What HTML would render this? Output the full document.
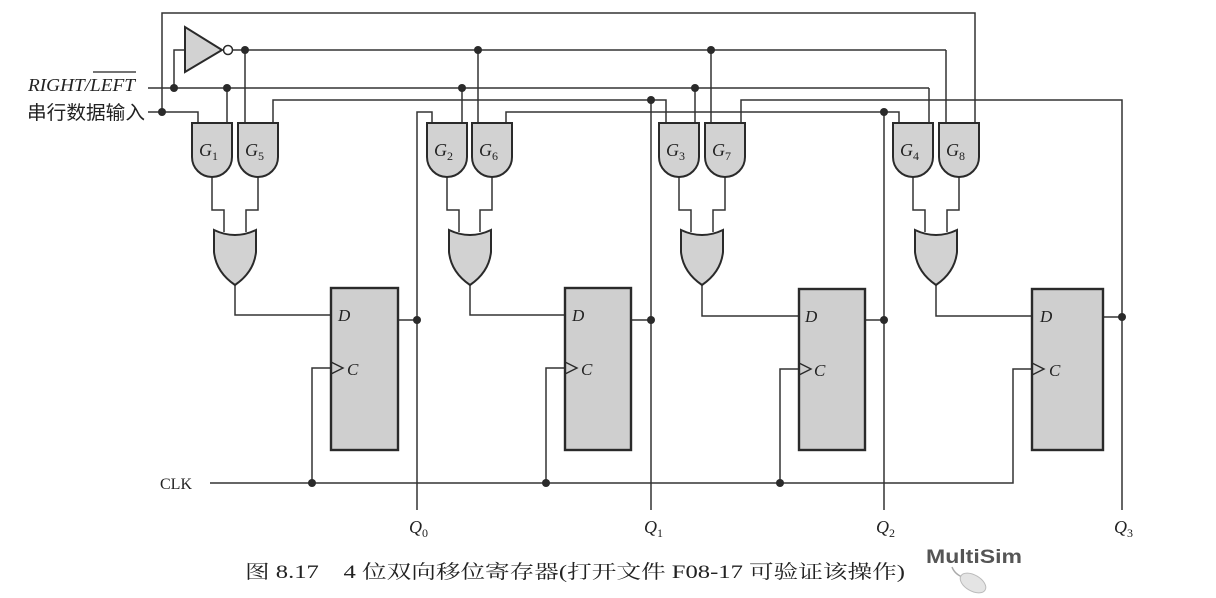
<!DOCTYPE html>
<html><head><meta charset="utf-8"><style>
html,body{margin:0;padding:0;background:#fff;}
svg{display:block;}
.w{stroke:#333;stroke-width:1.5;fill:none;}
.g{fill:#d2d2d2;stroke:#2a2a2a;stroke-width:2;}
.f{fill:#cfcfcf;stroke:#2a2a2a;stroke-width:2.4;}
.t{font-family:"Liberation Serif",serif;font-style:italic;fill:#222;}
</style></head><body>
<svg width="1216" height="598" viewBox="0 0 1216 598" xmlns="http://www.w3.org/2000/svg">
<g class="w">
<polyline points="148,112 198,112 198,123"/>
<polyline points="162,112 162,13 975,13 975,123"/>
<line x1="148" y1="88" x2="929" y2="88"/><line x1="929" y1="88" x2="929" y2="123"/>
<polyline points="174,88 174,50 185,50"/>
<line x1="232" y1="50" x2="946" y2="50"/><line x1="946" y1="50" x2="946" y2="123"/>
<line x1="227" y1="88" x2="227" y2="123"/>
<line x1="245" y1="50" x2="245" y2="123"/>
<polyline points="273,123 273,100 666,100 666,123"/>
<polyline points="741,123 741,100 1122,100 1122,510"/>
<polyline points="417,510 417,112 432,112 432,123"/>
<line x1="462" y1="88" x2="462" y2="123"/>
<line x1="478" y1="50" x2="478" y2="123"/>
<polyline points="506,123 506,112 899,112 899,123"/>
<line x1="651" y1="100" x2="651" y2="510"/>
<line x1="695" y1="88" x2="695" y2="123"/>
<line x1="711" y1="50" x2="711" y2="123"/>
<line x1="884" y1="112" x2="884" y2="510"/>
<polyline points="212,177 212,210 224,210 224,232"/><polyline points="258,177 258,210 246,210 246,232"/>
<polyline points="447,177 447,210 459,210 459,232"/><polyline points="492,177 492,210 480,210 480,232"/>
<polyline points="679,177 679,210 691,210 691,232"/><polyline points="725,177 725,210 713,210 713,232"/>
<polyline points="913,177 913,210 925,210 925,232"/><polyline points="959,177 959,210 947,210 947,232"/>
<polyline points="235,285 235,315 331,315"/>
<polyline points="470,285 470,315 565,315"/>
<polyline points="702,285 702,316 799,316"/>
<polyline points="936,285 936,316 1032,316"/>
<line x1="398" y1="320" x2="417" y2="320"/>
<line x1="631" y1="320" x2="651" y2="320"/>
<line x1="865" y1="320" x2="884" y2="320"/>
<line x1="1103" y1="317" x2="1122" y2="317"/>
<polyline points="210,483 1013,483 1013,369 1032,369"/>
<polyline points="312,483 312,368 331,368"/>
<polyline points="546,483 546,368 565,368"/>
<polyline points="780,483 780,369 799,369"/>
</g>
<polygon points="185,27 185,72 222,50" class="g"/>
<circle cx="228" cy="50" r="4.5" fill="#fff" stroke="#2a2a2a" stroke-width="1.5"/>
<g class="g">
<path d="M192,123H232V157A20,20 0 0 1 192,157Z"/>
<path d="M238,123H278V157A20,20 0 0 1 238,157Z"/>
<path d="M427,123H467V157A20,20 0 0 1 427,157Z"/>
<path d="M472,123H512V157A20,20 0 0 1 472,157Z"/>
<path d="M659,123H699V157A20,20 0 0 1 659,157Z"/>
<path d="M705,123H745V157A20,20 0 0 1 705,157Z"/>
<path d="M893,123H933V157A20,20 0 0 1 893,157Z"/>
<path d="M939,123H979V157A20,20 0 0 1 939,157Z"/>
</g>
<g class="g">
<path d="M214,230Q235,240 256,230V252Q254,272 235,285Q216,272 214,252Z"/>
<path d="M449,230Q470,240 491,230V252Q489,272 470,285Q451,272 449,252Z"/>
<path d="M681,230Q702,240 723,230V252Q721,272 702,285Q683,272 681,252Z"/>
<path d="M915,230Q936,240 957,230V252Q955,272 936,285Q917,272 915,252Z"/>
</g>
<g class="f">
<rect x="331" y="288" width="67" height="162"/>
<rect x="565" y="288" width="66" height="162"/>
<rect x="799" y="289" width="66" height="161"/>
<rect x="1032" y="289" width="71" height="161"/>
</g>
<g fill="none" stroke="#2a2a2a" stroke-width="1.4">
<polyline points="331,362 343,368 331,374"/>
<polyline points="565,362 577,368 565,374"/>
<polyline points="799,363 811,369 799,375"/>
<polyline points="1032,363 1044,369 1032,375"/>
</g>
<g class="t" font-size="17">
<text x="338" y="321">D</text><text x="347" y="375">C</text>
<text x="572" y="321">D</text><text x="581" y="375">C</text>
<text x="805" y="322">D</text><text x="814" y="376">C</text>
<text x="1040" y="322">D</text><text x="1049" y="376">C</text>
</g>
<g fill="#2a2a2a">
<circle cx="162" cy="112" r="4"/><circle cx="174" cy="88" r="4"/><circle cx="227" cy="88" r="4"/>
<circle cx="245" cy="50" r="4"/><circle cx="478" cy="50" r="4"/><circle cx="711" cy="50" r="4"/>
<circle cx="462" cy="88" r="4"/><circle cx="695" cy="88" r="4"/>
<circle cx="651" cy="100" r="4"/><circle cx="884" cy="112" r="4"/>
<circle cx="417" cy="320" r="4"/><circle cx="651" cy="320" r="4"/><circle cx="884" cy="320" r="4"/><circle cx="1122" cy="317" r="4"/>
<circle cx="312" cy="483" r="4"/><circle cx="546" cy="483" r="4"/><circle cx="780" cy="483" r="4"/>
</g>
<g class="t" font-size="18">
<text x="199" y="156">G<tspan font-size="12" dy="4" font-style="normal">1</tspan></text>
<text x="245" y="156">G<tspan font-size="12" dy="4" font-style="normal">5</tspan></text>
<text x="434" y="156">G<tspan font-size="12" dy="4" font-style="normal">2</tspan></text>
<text x="479" y="156">G<tspan font-size="12" dy="4" font-style="normal">6</tspan></text>
<text x="666" y="156">G<tspan font-size="12" dy="4" font-style="normal">3</tspan></text>
<text x="712" y="156">G<tspan font-size="12" dy="4" font-style="normal">7</tspan></text>
<text x="900" y="156">G<tspan font-size="12" dy="4" font-style="normal">4</tspan></text>
<text x="946" y="156">G<tspan font-size="12" dy="4" font-style="normal">8</tspan></text>
<text x="409" y="533">Q<tspan font-size="12" dy="4" font-style="normal">0</tspan></text>
<text x="644" y="533">Q<tspan font-size="12" dy="4" font-style="normal">1</tspan></text>
<text x="876" y="533">Q<tspan font-size="12" dy="4" font-style="normal">2</tspan></text>
<text x="1114" y="533">Q<tspan font-size="12" dy="4" font-style="normal">3</tspan></text>
</g>
<text x="28" y="91" class="t" font-size="18" textLength="107" lengthAdjust="spacingAndGlyphs">RIGHT/LEFT</text>
<line x1="93" y1="72" x2="136" y2="72" stroke="#222" stroke-width="1.2"/>
<text x="27" y="119" font-family="'Liberation Sans','Noto Sans CJK SC',sans-serif" font-size="19" fill="#222" textLength="118" lengthAdjust="spacingAndGlyphs">串行数据输入</text>
<text x="160" y="489" font-family="'Liberation Serif',serif" font-size="16" fill="#222">CLK</text>
<text x="245" y="578" font-family="'Liberation Serif','Noto Serif CJK SC',serif" font-size="19" fill="#222" textLength="660" lengthAdjust="spacingAndGlyphs">图 8.17　4 位双向移位寄存器(打开文件 F08-17 可验证该操作)</text>
<text x="926" y="563" font-family="'Liberation Sans',sans-serif" font-weight="bold" font-size="19" fill="#555" textLength="96" lengthAdjust="spacingAndGlyphs">MultiSim</text>
<path d="M952,567 Q955,575 965,578" stroke="#aaa" fill="none" stroke-width="1.5"/>
<ellipse cx="973" cy="583" rx="14" ry="8" transform="rotate(30 973 583)" fill="#e4e4e4" stroke="#bbb"/>
</svg>
</body></html>
